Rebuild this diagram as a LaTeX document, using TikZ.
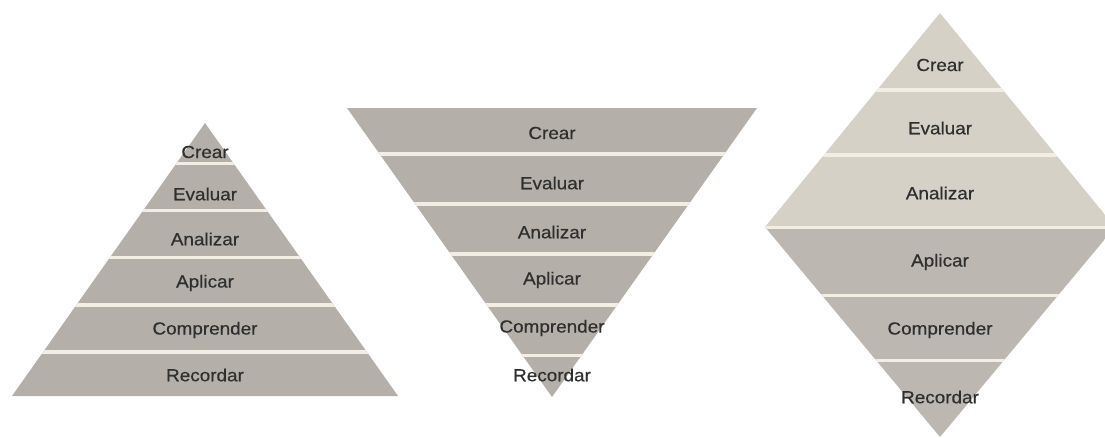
\documentclass[tikz,border=0pt]{standalone}
\usepackage{fontspec}
\setmainfont{Liberation Sans}
\definecolor{stone}{HTML}{B4B0A9}
\definecolor{stonelight}{HTML}{D5D1C7}
\definecolor{stonemid}{HTML}{BCB8B1}
\definecolor{seam}{HTML}{F2EEE3}
\definecolor{ink}{HTML}{2F2F2F}
\tikzset{
  seamline/.style={draw=seam, line width=3.5pt},
  lvl/.style={text=ink, inner sep=0pt,
    font=\fontsize{17.5}{21}\selectfont\addfontfeature{FakeBold=0.5}},
}
\newcommand{\lbl}[1]{\scalebox{1.08}[1]{#1}}
\begin{document}
\begin{tikzpicture}[x=1pt, y=-1pt]
\useasboundingbox (0,0) rectangle (1105,437);
\fill[white] (0,0) rectangle (1105,437);

% upright pyramid
\begin{scope}
  \clip (205,123) -- (398,396) -- (12,396) -- cycle;
  \fill[stone] (0,100) rectangle (420,400);
  \foreach \y in {163.5,210.5,257.5,305,352}
    \draw[seamline] (0,\y) -- (420,\y);
\end{scope}
\node[lvl] (a1) at (205,152) {\lbl{Crear}};
\node[lvl] (a2) at (205,194) {\lbl{Evaluar}};
\node[lvl] (a3) at (205,239) {\lbl{Analizar}};
\node[lvl] (a4) at (205,283) {\lbl{Aplicar}};
\node[lvl] (a5) at (205,330) {\lbl{Comprender}};
\node[lvl] (a6) at (205,375) {\lbl{Recordar}};

% inverted pyramid
\begin{scope}
  \clip (347,108) -- (757,108) -- (552,397) -- cycle;
  \fill[stone] (340,100) rectangle (760,400);
  \foreach \y in {154,204,254,305,355.5}
    \draw[seamline] (340,\y) -- (760,\y);
\end{scope}
\node[lvl] (b1) at (552,133) {\lbl{Crear}};
\node[lvl] (b2) at (552,183) {\lbl{Evaluar}};
\node[lvl] (b3) at (552,232) {\lbl{Analizar}};
\node[lvl] (b4) at (552,280) {\lbl{Aplicar}};
\node[lvl] (b5) at (552,328) {\lbl{Comprender}};
\node[lvl] (b6) at (552,375) {\lbl{Recordar}};

% diamond
\begin{scope}
  \clip (940,13) -- (1115,227) -- (940,437) -- (765,227) -- cycle;
  \fill[stonelight] (760,0) rectangle (1120,227);
  \fill[stonemid] (760,227) rectangle (1120,440);
  \foreach \y in {90,155,227.5,295.5,360.5}
    \draw[seamline] (760,\y) -- (1120,\y);
\end{scope}
\node[lvl] (c1) at (940,65) {\lbl{Crear}};
\node[lvl] (c2) at (940,128) {\lbl{Evaluar}};
\node[lvl] (c3) at (940,193) {\lbl{Analizar}};
\node[lvl] (c4) at (940,262) {\lbl{Aplicar}};
\node[lvl] (c5) at (940,330) {\lbl{Comprender}};
\node[lvl] (c6) at (940,397) {\lbl{Recordar}};
\end{tikzpicture}
\end{document}
